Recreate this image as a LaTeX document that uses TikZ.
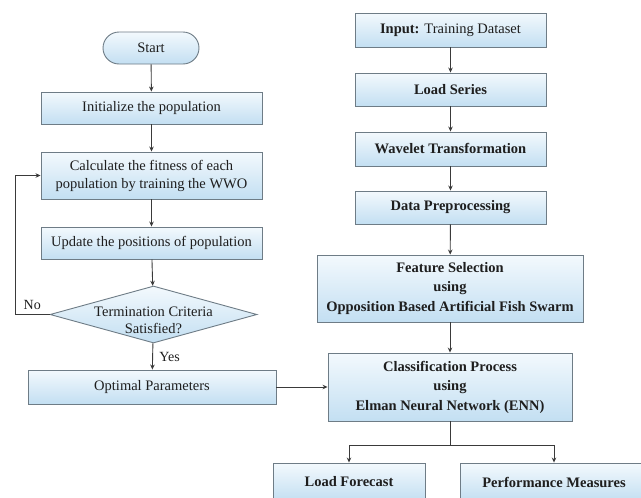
\documentclass[tikz,border=0pt]{standalone}
\usepackage{fontspec}
\setmainfont{Liberation Serif}
\usetikzlibrary{shapes.geometric,shapes.misc,arrows.meta}
\definecolor{boxtop}{HTML}{F3F9FD}
\definecolor{boxbot}{HTML}{C3DFF2}
\definecolor{boxline}{HTML}{6E7C86}
\definecolor{linec}{HTML}{3A3A3A}
\definecolor{txt}{HTML}{1E1E1E}
\begin{document}
\begin{tikzpicture}[x=1pt,y=-1pt,
  every node/.style={text=txt, font=\fontsize{14.5}{18}\selectfont},
  procbox/.style={draw=boxline, line width=0.9pt, top color=boxtop, bottom color=boxbot,
    rectangle, inner sep=0pt, align=center},
  boldbox/.style={procbox, font=\fontsize{14.5}{19.5}\selectfont\bfseries},
  termbox/.style={procbox, rounded rectangle},
  decbox/.style={draw=boxline, line width=0.9pt, top color=boxtop, bottom color=boxbot,
    diamond, inner sep=0pt, aspect=3.6},
  conn/.style={draw=linec, line width=0.9pt, -{Stealth[length=5pt,width=4.5pt]}},
  plainconn/.style={draw=linec, line width=0.9pt},
  lbl/.style={font=\fontsize{14}{16}\selectfont}
]
\useasboundingbox (0,0) rectangle (641,498);
\fill[white] (0,0) rectangle (641,498);
% left column
\node[termbox, minimum width=96pt, minimum height=32pt] (start) at (151,48) {Start};
\node[procbox, minimum width=221pt, minimum height=32pt] (init) at (151.5,108) {Initialize the population};
\node[procbox, minimum width=221pt, minimum height=47pt] (calc) at (151.5,175.5) {Calculate the fitness of each\\population by training the WWO};
\node[procbox, minimum width=221pt, minimum height=32pt] (upd) at (151.5,243) {Update the positions of population};
\node[decbox, minimum width=207pt, minimum height=57pt] (dec) at (153.5,314.5) {};
\node[align=center, font=\fontsize{14.5}{17.5}\selectfont] (dectxt) at (153.5,320.5) {Termination Criteria\\Satisfied?};
\node[procbox, minimum width=248pt, minimum height=34pt] (opt) at (152,387) {Optimal Parameters};
% right column
\node[procbox, minimum width=191pt, minimum height=34pt] (inp) at (450.5,30) {\textbf{Input:} Training Dataset};
\node[boldbox, minimum width=191pt, minimum height=33pt] (load) at (450.5,89.5) {Load Series};
\node[boldbox, minimum width=191pt, minimum height=34pt] (wav) at (450.5,149) {Wavelet Transformation};
\node[boldbox, minimum width=191pt, minimum height=33pt] (prep) at (450.5,207.5) {Data Preprocessing};
\node[boldbox, minimum width=266pt, minimum height=67pt] (feat) at (450,288.5) {Feature Selection\\using\\Opposition Based Artificial Fish Swarm};
\node[boldbox, minimum width=244pt, minimum height=68pt] (cls) at (450,387) {Classification Process\\using\\Elman Neural Network (ENN)};
\node[boldbox, minimum width=152pt, minimum height=38pt] (lf) at (349,482) {Load Forecast};
\node[boldbox, minimum width=188pt, minimum height=38pt] (pm) at (554,482) {Performance Measures};
% connectors left
\draw[conn] (start) -- (init);
\draw[conn] (init) -- (calc);
\draw[conn] (calc) -- (upd);
\draw[conn] (upd) -- (dec);
\draw[conn] (dec) -- node[lbl, right, xshift=3pt, yshift=-1pt] {Yes} (opt);
\coordinate (fb) at (15,314.5);
\draw[conn] (dec.west) -- node[lbl, above, pos=0.5, yshift=1pt] {No} (fb) |- (calc.west);
\draw[conn] (opt) -- (cls);
% connectors right
\draw[conn] (inp) -- (load);
\draw[conn] (load) -- (wav);
\draw[conn] (wav) -- (prep);
\draw[conn] (prep) -- (feat);
\draw[conn] (feat) -- (cls);
\coordinate (split) at (450,445);
\draw[plainconn] (cls) -- (split);
\draw[conn] (split) -| (lf.north);
\draw[conn] (split) -| (pm.north);
\end{tikzpicture}
\end{document}
